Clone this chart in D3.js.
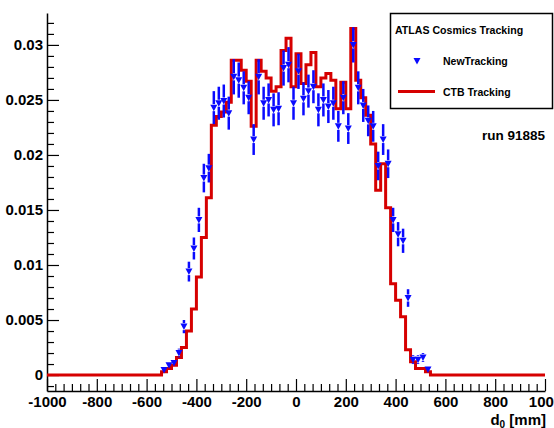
<!DOCTYPE html>
<html><head><meta charset="utf-8">
<script src="https://cdn.jsdelivr.net/npm/d3@7"></script>
<style>
html,body{margin:0;padding:0;background:#fff;}
svg{display:block;font-family:"Liberation Sans",Arial,sans-serif;font-weight:bold;}
</style></head>
<body>
<svg id="c" width="554" height="428"></svg>
<script>
// ---- data ----
const binLow = [-540,-520,-500,-480,-460,-440,-420,-400,-380,-360,-340,-320,-300,-280,-260,-240,-220,-200,-180,-160,-140,-120,-100,-80,-60,-40,-20,0,20,40,60,80,100,120,140,160,180,200,220,240,260,280,300,320,340,360,380,400,420,440,460,480,500,520];
const binWidth = 20;
const ctbTracking = [0.0003,0.0006,0.0009,0.0016,0.0025,0.0040,0.0060,0.0089,0.0125,0.0161,0.0227,0.0235,0.0239,0.0248,0.0286,0.0286,0.0277,0.0267,0.0226,0.0286,0.0276,0.0270,0.0258,0.0262,0.0295,0.0306,0.0262,0.0292,0.0265,0.0282,0.0293,0.0262,0.0270,0.0274,0.0268,0.0242,0.0266,0.0242,0.0315,0.0268,0.0252,0.0236,0.0210,0.0168,0.0192,0.0152,0.0083,0.0068,0.0053,0.0023,0.0012,0.0006,0.0006,0.0003];
const newTracking = [0.00045,0.0009,0.0011,0.0020,0.0044,0.0094,0.0115,0.0141,0.0179,0.0188,0.0243,0.0247,0.0249,0.0238,0.0271,0.0268,0.0261,0.0252,0.0214,0.0271,0.0247,0.0250,0.0241,0.0242,0.0279,0.0282,0.0247,0.0276,0.0251,0.0258,0.0262,0.0241,0.0250,0.0244,0.0247,0.0226,0.0252,0.0224,0.0300,0.0261,0.0245,0.0231,0.0226,0.0190,0.0214,0.0192,0.0141,0.0128,0.0122,0.0070,0.0014,0.0014,0.0016,0.0005];
const newTrackingErr = [0.0002,0.0003,0.0003,0.0004,0.0006,0.0009,0.0010,0.0011,0.0013,0.0013,0.0015,0.0015,0.0015,0.0015,0.0016,0.0016,0.0015,0.0015,0.0014,0.0016,0.0015,0.0015,0.0015,0.0015,0.0016,0.0016,0.0015,0.0016,0.0015,0.0015,0.0015,0.0015,0.0015,0.0015,0.0015,0.0014,0.0015,0.0014,0.0016,0.0015,0.0015,0.0014,0.0014,0.0013,0.0014,0.0013,0.0011,0.0011,0.0011,0.0008,0.0004,0.0004,0.0004,0.0002];
const xDomain = [-1000, 1000];
const yDomain = [-0.00145, 0.0329];
const xTickValues = [-1000,-800,-600,-400,-200,0,200,400,600,800,1000];
const xTickLabels = ["-1000","-800","-600","-400","-200","0","200","400","600","800","1000"];
const yTickValues = [0,0.005,0.01,0.015,0.02,0.025,0.03];
const yTickLabels = ["0","0.005","0.01","0.015","0.02","0.025","0.03"];
const seriesNames = ["NewTracking","CTB Tracking"];
const legendTitle = "ATLAS Cosmics Tracking";
const runLabel = "run 91885";

// ---- layout ----
const L = 47, R = 545, T = 13, B = 391;
const svg = d3.select("#c");
const x = d3.scaleLinear().domain(xDomain).range([L, R]);
const y = d3.scaleLinear().domain(yDomain).range([B, T]);
const RED = "#d60000", BLUE = "#0a0aff";

// minor ticks
const xMinor = d3.range(xDomain[0], xDomain[1] + 1e-6, 200/6).filter(v => Math.abs((v - xDomain[0]) % 200) > 1 && Math.abs((v - xDomain[0]) % 200 - 200) > 1);
const yMinor = d3.range(-0.001, 0.0329, 0.001).filter(v => Math.abs(v/0.005 - Math.round(v/0.005)) > 1e-6);

svg.append("g").attr("transform", `translate(0,${B})`)
  .call(d3.axisBottom(x).tickValues(xMinor).tickSize(-7).tickSizeOuter(0).tickFormat(""))
  .call(g => g.select(".domain").remove());
svg.append("g").attr("transform", `translate(${L},0)`)
  .call(d3.axisLeft(y).tickValues(yMinor).tickSize(-7).tickSizeOuter(0).tickFormat(""))
  .call(g => g.select(".domain").remove());

const xAxis = svg.append("g").attr("transform", `translate(0,${B})`)
  .call(d3.axisBottom(x).tickValues(xTickValues).tickSize(-12).tickSizeOuter(0).tickPadding(5)
    .tickFormat((d,i) => xTickLabels[i]));
xAxis.selectAll("text").attr("font-size", 15).attr("font-weight", "bold").attr("fill", "#000");
const yAxis = svg.append("g").attr("transform", `translate(${L},0)`)
  .call(d3.axisLeft(y).tickValues(yTickValues).tickSize(-12).tickSizeOuter(0).tickPadding(4)
    .tickFormat((d,i) => yTickLabels[i]));
yAxis.selectAll("text").attr("font-size", 15).attr("font-weight", "bold").attr("fill", "#000");
svg.selectAll(".domain").attr("stroke", "#000").attr("stroke-width", 1.5);
svg.selectAll(".tick line").attr("stroke", "#000").attr("stroke-width", 1.2);

// ---- red histogram (step) ----
const stepPts = [[xDomain[0], 0]];
binLow.forEach((b, i) => {
  stepPts.push([b, 0 ]);
});
const pts = [];
pts.push([x(xDomain[0]), y(0)]);
binLow.forEach((b, i) => {
  const prev = i === 0 ? 0 : ctbTracking[i-1];
  pts.push([x(b), y(prev)]);
  pts.push([x(b), y(ctbTracking[i])]);
});
const lastHi = binLow[binLow.length-1] + binWidth;
pts.push([x(lastHi), y(ctbTracking[ctbTracking.length-1])]);
pts.push([x(lastHi), y(0)]);
pts.push([x(xDomain[1]), y(0)]);
svg.append("path").attr("d", d3.line()(pts))
  .attr("fill", "none").attr("stroke", RED).attr("stroke-width", 3).attr("stroke-linejoin", "miter");

// ---- blue points with error bars ----
const gap = 3.5;
const pg = svg.append("g");
binLow.forEach((b, i) => {
  const cx = x(b + binWidth/2), cy = y(newTracking[i]);
  const yTop = y(newTracking[i] + newTrackingErr[i]);
  const yBot = y(newTracking[i] - newTrackingErr[i]);
  if (cy - gap > yTop) pg.append("line").attr("x1", cx).attr("x2", cx).attr("y1", yTop).attr("y2", cy - gap)
    .attr("stroke", BLUE).attr("stroke-width", 2.5);
  if (yBot > cy + gap) pg.append("line").attr("x1", cx).attr("x2", cx).attr("y1", cy + gap).attr("y2", yBot)
    .attr("stroke", BLUE).attr("stroke-width", 2.5);
  pg.append("path").attr("d", `M${cx-3.5},${cy-3}L${cx+3.5},${cy-3}L${cx},${cy+3.5}Z`).attr("fill", BLUE);
});

// ---- legend ----
const lg = svg.append("g");
lg.append("rect").attr("x", 390.5).attr("y", 13.5).attr("width", 162).attr("height", 95)
  .attr("fill", "#fff").attr("stroke", "#000").attr("stroke-width", 1.5);
lg.append("text").attr("x", 395).attr("y", 34).attr("font-size", 10.6).text(legendTitle);
lg.append("path").attr("d", `M${417-3.5},${58}L${417+3.5},${58}L${417},${64.5}Z`).attr("fill", BLUE);
lg.append("text").attr("x", 443).attr("y", 65).attr("font-size", 10.5).text(seriesNames[0]);
lg.append("line").attr("x1", 398).attr("x2", 435).attr("y1", 91.5).attr("y2", 91.5).attr("stroke", RED).attr("stroke-width", 3);
lg.append("text").attr("x", 443).attr("y", 96).attr("font-size", 10.5).text(seriesNames[1]);

svg.append("text").attr("x", 545).attr("y", 140).attr("text-anchor", "end").attr("font-size", 13.5).text(runLabel);

// axis title
const t = svg.append("text").attr("x", 546).attr("y", 425).attr("text-anchor", "end").attr("font-size", 15);
t.append("tspan").text("d");
t.append("tspan").attr("font-size", 10).attr("dy", 3).text("0");
t.append("tspan").attr("dy", -3).text(" [mm]");
</script>
</body></html>
